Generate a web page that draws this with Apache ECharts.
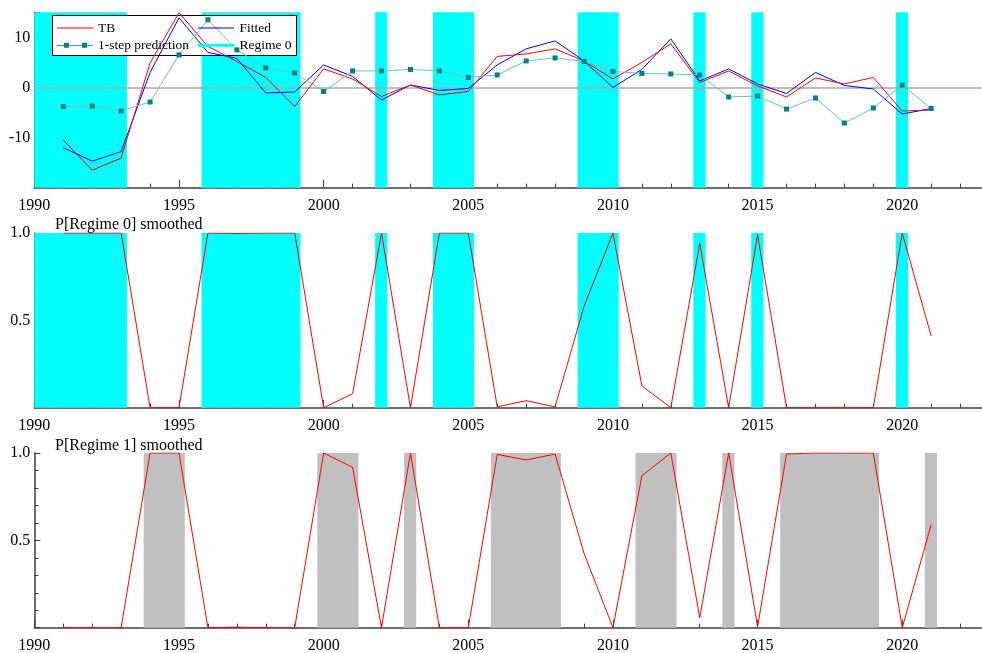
<!DOCTYPE html>
<html><head><meta charset="utf-8">
<script src="https://cdn.jsdelivr.net/npm/echarts@6/dist/echarts.min.js"></script>
<style>html,body{margin:0;padding:0;background:#fff;overflow:hidden}#c{width:100vw;height:100vh}</style>
</head><body><div id="c"></div>
<script>
const years = [1991,1992,1993,1994,1995,1996,1997,1998,1999,2000,2001,2002,2003,2004,2005,2006,2007,2008,2009,2010,2011,2012,2013,2014,2015,2016,2017,2018,2019,2020,2021];
const tb = [-10.5,-16.5,-14.1,4.9,14.9,8.2,5.2,2.0,-3.8,3.7,1.7,-1.8,0.5,-1.5,-0.8,6.2,6.7,7.7,5.3,1.7,5.0,8.7,1.0,3.3,0.3,-1.9,1.9,0.7,2.0,-4.7,-4.5];
const fitted = [-12.0,-14.7,-12.8,3.0,13.9,7.0,5.8,-1.1,-0.9,4.5,2.2,-2.5,0.5,-0.6,-0.2,4.5,7.7,9.3,5.3,0.0,3.6,9.7,1.3,3.7,0.7,-1.2,3.0,0.4,-0.3,-5.3,-4.2];
const pred = [-3.8,-3.7,-4.7,-2.9,6.5,13.5,7.5,3.9,2.9,-0.8,3.3,3.3,3.6,3.3,2.0,2.5,5.3,5.9,5.2,3.2,2.8,2.7,2.5,-1.9,-1.7,-4.3,-2.1,-7.1,-4.1,0.5,-4.2];
const p0 = [1,1,1,0,0,1,0.997,1,1,0,0.08,1,0,1,1,0.005,0.04,0.005,0.58,1,0.125,0,0.94,0,0.99,0,0,0,0,1,0.41];
const p1 = [0,0,0,1,1,0,0.003,0,0,1,0.918,0,1,0,0,0.992,0.96,0.994,0.426,0,0.87,1,0.057,1,0.005,0.994,1,1,1,0,0.59];
const regime0Years = [1991,1992,1993,1996,1997,1998,1999,2002,2004,2005,2009,2010,2013,2015,2020];
const regime1Years = [1994,1995,2000,2001,2003,2006,2007,2008,2011,2012,2014,2016,2017,2018,2019,2021];
const xTickLabels = [1990,1995,2000,2005,2010,2015,2020];
const topYLabels = [-10,0,10];
const probYLabels = [0.5,1.0];
const titles = ['P[Regime 0] smoothed','P[Regime 1] smoothed'];

const chart = echarts.init(document.getElementById('c'), null, {renderer:'canvas'});
const LEFT = 34.35, PX_PER_YEAR = 28.93;
const XMIN = 1990, XMAX = XMIN + (chart.getWidth() - LEFT) / PX_PER_YEAR;
const FONT = 'Liberation Serif';
const AXC = '#404040';

function pairs(vals){ return years.map((y,i)=>[y, vals[i]]); }
function areas(yrs){
  const out=[]; let s=null, prev=null;
  yrs.forEach(y=>{
    if(s===null){ s=y; prev=y; return; }
    if(y===prev+1){ prev=y; return; }
    out.push([s,prev]); s=y; prev=y;
  });
  if(s!==null) out.push([s,prev]);
  return out.map(([a,b])=>[{xAxis: a===years[0]?XMIN:a-0.22},{xAxis:b+0.2}]);
}
const grids = [
  {left:LEFT, top:12.3, right:0, height:175.4, outerBoundsMode:'none', containLabel:false},
  {left:LEFT, top:233, right:0, height:174.7, outerBoundsMode:'none', containLabel:false},
  {left:LEFT, top:453, right:0, height:174.7, outerBoundsMode:'none', containLabel:false}
];
const xAxes = [];
grids.forEach((g,i)=>{
  xAxes.push({type:'value', gridIndex:i, position:'bottom', min:XMIN, max:XMAX, interval:1,
    axisLine:{show:true, onZero:false, lineStyle:{color:AXC, width:1.5}},
    axisTick:{show:true, inside:true, length:4, lineStyle:{color:AXC}},
    axisLabel:{show:false}, splitLine:{show:false}});
  xAxes.push({type:'value', gridIndex:i, position:'bottom', min:XMIN, max:XMAX, interval:5,
    axisLine:{show:false, onZero:false},
    axisTick:{show:true, inside:true, length:8, lineStyle:{color:AXC}},
    axisLabel:{show:true, margin:10, color:'#000', fontFamily:FONT, fontSize:16,
      formatter:v=>xTickLabels.includes(v)?String(v):''},
    splitLine:{show:false}});
});
const yAxes = [
  {type:'value', gridIndex:0, position:'left', min:-20, max:15, interval:5,
    axisLine:{show:true, onZero:false, lineStyle:{color:AXC, width:1.5}},
    axisTick:{show:true, inside:true, length:3, lineStyle:{color:AXC}},
    axisLabel:{show:false}, splitLine:{show:false}},
  {type:'value', gridIndex:0, position:'left', min:-20, max:15, interval:10,
    axisLine:{show:false, onZero:false},
    axisTick:{show:true, inside:true, length:6, lineStyle:{color:AXC}},
    axisLabel:{show:true, margin:4, color:'#000', fontFamily:FONT, fontSize:16,
      formatter:v=>topYLabels.includes(v)?String(v):''},
    splitLine:{show:false}}
];
[1,2].forEach(i=>{
  yAxes.push({type:'value', gridIndex:i, position:'left', min:0, max:1, interval:0.5,
    axisLine:{show:true, onZero:false, lineStyle:{color:AXC, width:1.5}},
    axisTick:{show:true, inside:true, length:6, lineStyle:{color:AXC}},
    minorTick:{show:true, splitNumber:5, length:4, lineStyle:{color:AXC}},
    axisLabel:{show:true, margin:4, color:'#000', fontFamily:FONT, fontSize:16,
      formatter:v=>probYLabels.some(p=>Math.abs(p-v)<1e-9)?v.toFixed(1):''},
    splitLine:{show:false}});
});

const series = [
  {name:'Regime 0', type:'line', xAxisIndex:0, yAxisIndex:0, data:[], symbol:'none', z:1,
    lineStyle:{color:'#00ffff', width:3}, itemStyle:{color:'#00ffff'},
    markArea:{silent:true, z:1, itemStyle:{color:'#00ffff', opacity:1}, data:areas(regime0Years)},
    markLine:{silent:true, z:2, symbol:'none', label:{show:false}, lineStyle:{color:'#a8a8a8', width:1.5, type:'solid'},
      data:[{yAxis:0}], animation:false}},
  {name:'Fitted', type:'line', xAxisIndex:0, yAxisIndex:0, data:pairs(fitted), symbol:'none', z:3,
    lineStyle:{color:'#0000ff', width:1}, itemStyle:{color:'#0000ff'}},
  {name:'TB', type:'line', xAxisIndex:0, yAxisIndex:0, data:pairs(tb), symbol:'none', z:3,
    lineStyle:{color:'#ff0000', width:1}, itemStyle:{color:'#ff0000'}},
  {name:'1-step prediction', type:'line', xAxisIndex:0, yAxisIndex:0, data:pairs(pred), symbol:'rect', symbolSize:5, showSymbol:true, z:3,
    lineStyle:{color:'#70c0c0', width:1}, itemStyle:{color:'#008080'}},
  {name:'shade0', type:'line', xAxisIndex:2, yAxisIndex:2, data:[], symbol:'none', z:1,
    markArea:{silent:true, z:1, itemStyle:{color:'#00ffff', opacity:1}, data:areas(regime0Years)}},
  {name:'P0', type:'line', xAxisIndex:2, yAxisIndex:2, data:pairs(p0), symbol:'none', z:3,
    lineStyle:{color:'#ff0000', width:1}},
  {name:'shade1', type:'line', xAxisIndex:4, yAxisIndex:3, data:[], symbol:'none', z:1,
    markArea:{silent:true, z:1, itemStyle:{color:'#c0c0c0', opacity:1}, data:areas(regime1Years)}},
  {name:'P1', type:'line', xAxisIndex:4, yAxisIndex:3, data:pairs(p1), symbol:'none', z:3,
    lineStyle:{color:'#ff0000', width:1}}
];

const ICON_LINE = 'path://M0,0M0,10M0,4.5H36V5.5H0Z';
const ICON_PRED = 'path://M0,0M0,10M0,4.6H36V5.4H0ZM7,2.5H12V7.5H7ZM25,2.5H30V7.5H25Z';
const ICON_THICK = 'path://M0,0M0,10M0,3.5H36V6.5H0Z';
const legText = {color:'#000', fontFamily:FONT, fontSize:13.5};
const option = {
  animation:false,
  backgroundColor:'#fff',
  grid:grids, xAxis:xAxes, yAxis:yAxes, series:series,
  title: titles.map((t,i)=>({text:t, left:55, top: i===0?217:438, padding:0,
    textStyle:{fontFamily:FONT, fontSize:16, fontWeight:'normal', color:'#000'}})),
  legend:[
    {left:57, top:21, orient:'vertical', padding:0, itemGap:3.3, itemWidth:36, itemHeight:10, z:10,
      textStyle:legText, selectedMode:false,
      data:[{name:'TB', icon:ICON_LINE},{name:'1-step prediction', icon:ICON_PRED}]},
    {left:198, top:21, orient:'vertical', padding:0, itemGap:3.3, itemWidth:37, itemHeight:10, z:10,
      textStyle:legText, selectedMode:false,
      data:[{name:'Fitted', icon:ICON_LINE},{name:'Regime 0', icon:ICON_THICK}]}
  ],
  graphic:[{type:'rect', z:2, silent:true, shape:{x:52.5, y:15.5, width:244, height:40},
    style:{fill:'#fff', stroke:'#000', lineWidth:1}}]
};
chart.setOption(option);
</script></body></html>
